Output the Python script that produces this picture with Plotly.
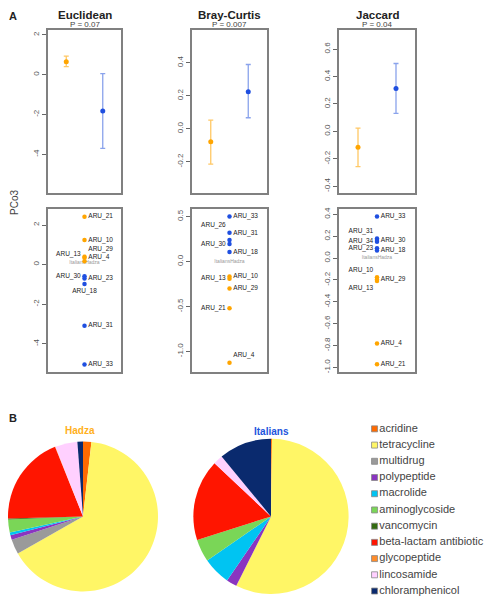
import plotly.graph_objects as go

# ---- panel A: PCo3 means (top) and per-sample scores (bottom)
distances = ["Euclidean", "Bray-Curtis", "Jaccard"]
p_labels = ["P = 0.07", "P = 0.007", "P = 0.04"]

hadza_mean = [0.65, -0.079, -0.116]
hadza_upper = [0.93, 0.053, 0.024]
hadza_lower = [0.40, -0.214, -0.257]
italian_mean = [-1.82, 0.224, 0.313]
italian_upper = [0.05, 0.39, 0.495]
italian_lower = [-3.7, 0.067, 0.131]

euclid_samples = ["ARU_21", "ARU_10", "ARU_29", "ARU_4", "ARU_13",
                  "ARU_30", "ARU_23", "ARU_18", "ARU_31", "ARU_33"]
euclid_pco3 = [2.42, 1.24, 0.39, 0.34, 0.17, -0.59, -0.71, -0.98, -3.1, -5.05]
euclid_group = ["Hadza"] * 5 + ["Italians"] * 5

bray_samples = ["ARU_33", "ARU_26", "ARU_31", "ARU_30", "ARU_18",
                "ARU_10", "ARU_13", "ARU_29", "ARU_21", "ARU_4"]
bray_pco3 = [0.50, 0.32, 0.24, 0.195, 0.107, -0.165, -0.19, -0.30, -0.52, -1.125]
bray_group = ["Italians"] * 5 + ["Hadza"] * 5

jaccard_samples = ["ARU_33", "ARU_31", "ARU_30", "ARU_34", "ARU_23", "ARU_18",
                   "ARU_10", "ARU_29", "ARU_13", "ARU_4", "ARU_21"]
jaccard_pco3 = [0.38, 0.18, 0.165, 0.15, 0.09, 0.07, -0.175, -0.195, -0.21, -0.78, -0.97]
jaccard_group = ["Italians"] * 6 + ["Hadza"] * 5

centroid_pco3 = [0.08, 0.0, 0.0]

top_ticks = [[2, 0, -2, -4], [0.4, 0.2, 0.0, -0.2], [0.6, 0.4, 0.2, 0.0, -0.2, -0.4]]
top_ticktext = [["2", "0", "-2", "-4"], ["0.4", "0.2", "0.0", "-0.2"],
                ["0.6", "0.4", "0.2", "0.0", "-0.2", "-0.4"]]
bottom_ticks = [[2, 0, -2, -4], [0.5, 0.0, -0.5, -1.0],
                [0.4, 0.2, 0.0, -0.2, -0.4, -0.6, -0.8, -1.0]]
bottom_ticktext = [["2", "0", "-2", "-4"], ["0.5", "0.0", "-0.5", "-1.0"],
                   ["0.4", "0.2", "0.0", "-0.2", "-0.4", "-0.6", "-0.8", "-1.0"]]

# ---- panel B: resistance gene classes
classes = ["acridine", "tetracycline", "multidrug", "polypeptide", "macrolide",
           "aminoglycoside", "vancomycin", "beta-lactam antibiotic", "glycopeptide",
           "lincosamide", "chloramphenicol"]
hadza_share = [1.8, 65.1, 3.2, 1.0, 0.6, 2.8, 0.2, 19.4, 0.1, 4.8, 1.2]
italian_share = [0.2, 57.3, 0.0, 2.2, 5.8, 4.7, 0.0, 17.0, 0.0, 2.0, 11.0]
class_colors = ["#FF6A00", "#FFF666", "#9A9A9A", "#8A35C0", "#00C4F2", "#7AD657",
                "#336B10", "#FF1500", "#FF8C2A", "#FFD0FF", "#0A2A6E"]

# the page body has an 8px margin, so the figure is a bit smaller than the window
OFF = 8
W, H = 500 - OFF, 599 - OFF
ORANGE, BLUE = "#FFA500", "#1F4FE0"
ORANGE_BAR, BLUE_BAR = "#FFC865", "#8AA3EC"
FONT = "Liberation Sans, Arial, sans-serif"


def clamp(v):
    return min(max(v, 0.0), 1.0)


# positions below are given in window pixels (top-left origin)
def px_x(a, b):
    return [clamp((a - OFF) / W), clamp((b - OFF) / W)]


def px_y(top, bottom):
    return [clamp(1 - (bottom - OFF) / H), clamp(1 - (top - OFF) / H)]


def ax(x):
    return (x - OFF) / W


def ay(y):
    return 1 - (y - OFF) / H


col_x = [px_x(48, 121), px_x(192, 267), px_x(339, 415)]
top_y = px_y(28, 192)
bottom_y = px_y(208, 372)
top_range = [[-5.95, 2.25], [-0.39, 0.6], [-0.45, 0.74]]
bottom_range = [[-5.44, 2.81], [-1.23, 0.585], [-1.043, 0.449]]

# label placement for the sample scores (style only)
euclid_pos = ["middle right", "middle right", "top right", "middle right", "top left",
              "middle left", "middle right", "bottom center", "middle right", "middle right"]
bray_pos = ["middle right", "top left", "top right", "middle left", "middle right",
            "middle right", "middle left", "middle right", "middle left", "top right"]
jaccard_pos = ["middle right", "top left", "middle right", "middle left", "middle left",
               "middle right", "top left", "middle right", "bottom left", "middle right",
               "middle right"]

samples = [euclid_samples, bray_samples, jaccard_samples]
scores = [euclid_pco3, bray_pco3, jaccard_pco3]
groups = [euclid_group, bray_group, jaccard_group]
positions = [euclid_pos, bray_pos, jaccard_pos]

fig = go.Figure()
layout = {}
axis_line = dict(showline=True, mirror=True, linecolor="#808080", linewidth=1.5,
                 showgrid=False, zeroline=False)

for i in range(3):
    t = 2 * i + 1   # top axis index
    b = 2 * i + 2   # bottom axis index
    for k, yd, rng, tv, tt in [(t, top_y, top_range[i], top_ticks[i], top_ticktext[i]),
                               (b, bottom_y, bottom_range[i], bottom_ticks[i], bottom_ticktext[i])]:
        layout[f"xaxis{k}"] = dict(domain=col_x[i], anchor=f"y{k}", showticklabels=False,
                                   ticks="", **axis_line)
        layout[f"yaxis{k}"] = dict(domain=yd, anchor=f"x{k}", range=rng, tickvals=tv,
                                   ticktext=tt, ticks="outside", ticklen=4, tickwidth=1,
                                   tickcolor="#666", tickangle=-90,
                                   tickfont=dict(size=8, color="#555"), **axis_line)
    layout[f"xaxis{t}"]["range"] = [0.5, 2.5]
    layout[f"xaxis{b}"]["range"] = [0, 2]

    # means with error bars
    for x, m, up, lo, c, cb in [(1, hadza_mean[i], hadza_upper[i], hadza_lower[i], ORANGE, ORANGE_BAR),
                                (2, italian_mean[i], italian_upper[i], italian_lower[i], BLUE, BLUE_BAR)]:
        fig.add_trace(go.Scatter(
            x=[x], y=[m], mode="markers", marker=dict(color=c, size=5),
            error_y=dict(type="data", symmetric=False, array=[up - m], arrayminus=[m - lo],
                         color=cb, thickness=1.3, width=2.5),
            xaxis=f"x{t}", yaxis=f"y{t}", showlegend=False))

    # centroid labels (grey, overlapping in the original)
    fig.add_trace(go.Scatter(
        x=[1], y=[centroid_pco3[i]], mode="text", text=["ItaliansHadza"],
        textposition="middle center",
        textfont=dict(size=5, color="#999", family=FONT),
        xaxis=f"x{b}", yaxis=f"y{b}", showlegend=False))

    # sample scores
    fig.add_trace(go.Scatter(
        x=[1] * len(scores[i]), y=scores[i], mode="markers+text", text=samples[i],
        textposition=positions[i], textfont=dict(size=6.5, color="#222", family=FONT),
        marker=dict(size=4.5, color=[ORANGE if g == "Hadza" else BLUE for g in groups[i]]),
        xaxis=f"x{b}", yaxis=f"y{b}", showlegend=False, cliponaxis=False))

# pies
fig.add_trace(go.Pie(labels=classes, values=hadza_share, sort=False, direction="clockwise",
                     rotation=0, textinfo="none", hoverinfo="label+percent",
                     marker=dict(colors=class_colors, line=dict(width=0)),
                     domain=dict(x=px_x(2, 158), y=px_y(440, 594)), showlegend=False))
fig.add_trace(go.Pie(labels=classes, values=italian_share, sort=False, direction="clockwise",
                     rotation=0, textinfo="none", hoverinfo="label+percent",
                     marker=dict(colors=class_colors, line=dict(width=0)),
                     domain=dict(x=px_x(193, 349), y=px_y(439, 595)), showlegend=False))

# legend for the gene classes, drawn as its own small panel
fig.add_trace(go.Scatter(
    x=[0.035] * len(classes), y=classes, mode="markers+text", text=classes,
    textposition="middle right", textfont=dict(size=11, color="#444", family=FONT),
    marker=dict(symbol="square", size=6, color=class_colors, line=dict(color="#888", width=0.8)),
    xaxis="x7", yaxis="y7", showlegend=False, cliponaxis=False, hoverinfo="text"))
layout["xaxis7"] = dict(domain=px_x(370, 500), anchor="y7", range=[0, 1], visible=False)
layout["yaxis7"] = dict(domain=px_y(420, 599), anchor="x7", type="category",
                        categoryorder="array", categoryarray=classes,
                        range=[10.43, -0.552], visible=False)

annotations = []
for i in range(3):
    cx = (col_x[i][0] + col_x[i][1]) / 2
    annotations.append(dict(x=cx, y=ay(13.5), text=f"<b>{distances[i]}</b>",
                            font=dict(size=11.5, color="#222", family=FONT)))
    annotations.append(dict(x=cx, y=ay(22.5), text=p_labels[i],
                            font=dict(size=8, color="#444", family=FONT)))
annotations += [
    dict(x=ax(13), y=ay(14), text="<b>A</b>", font=dict(size=11, color="#222", family=FONT)),
    dict(x=ax(12.5), y=ay(418), text="<b>B</b>", font=dict(size=11, color="#222", family=FONT)),
    dict(x=ax(14), y=ay(202), text="PCo3", textangle=-90,
         font=dict(size=10, color="#444", family=FONT)),
    dict(x=ax(80), y=ay(431), text="<b>Hadza</b>", font=dict(size=10, color="#FFB020", family=FONT)),
    dict(x=ax(271), y=ay(432), text="<b>Italians</b>", font=dict(size=10, color="#2255DD", family=FONT)),
]
for a in annotations:
    a.update(xref="paper", yref="paper", showarrow=False, xanchor="center", yanchor="middle")

fig.update_layout(
    width=W, height=H, margin=dict(l=0, r=0, t=0, b=0),
    paper_bgcolor="white", plot_bgcolor="white",
    font=dict(family=FONT),
    annotations=annotations,
    **layout,
)

fig.write_html("out.html")
